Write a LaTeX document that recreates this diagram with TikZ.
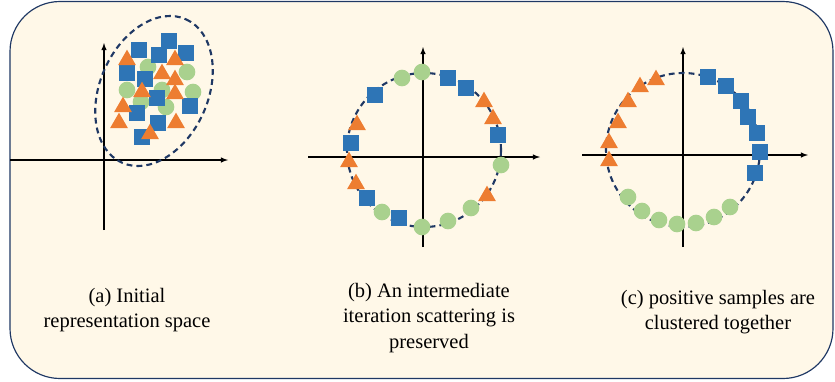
\documentclass[tikz,border=0pt]{standalone}
\usepackage{fontspec}
\setmainfont{Liberation Serif}
\usetikzlibrary{shapes.geometric}

\definecolor{sqblue}{HTML}{2E75B6}
\definecolor{triorange}{HTML}{ED7D31}
\definecolor{dotgreen}{HTML}{A9D18E}
\definecolor{ringnavy}{HTML}{1F3864}
\definecolor{panelcream}{HTML}{FFF8E8}

\begin{document}
\begin{tikzpicture}[
            x = 0.03cm, y = -0.03cm, % one unit = one pixel of the figure
            > = latex, % arrow head style
            axisline/.style = {->, line width=1.1pt, black},
            ring/.style = {draw=ringnavy, line width=1.8pt, dash pattern=on 5pt off 3.5pt},
            sq/.style = {shape=rectangle, fill=sqblue, minimum size=0.5cm, inner sep=0pt},
            gdot/.style = {shape=circle, fill=dotgreen, minimum size=0.5cm, inner sep=0pt},
            tri/.style = {shape=regular polygon, regular polygon sides=3, fill=triorange, minimum size=0.62cm, inner sep=0pt},
            captext/.style = {align=center, font=\fontsize{17.5}{22}\selectfont}
        ]

\useasboundingbox (0,0) rectangle (835,381);
\draw[draw=ringnavy, line width=1pt, fill=panelcream, rounded corners=1.5cm] (10,1.5) rectangle (833,378.5);

% (a) initial space
\coordinate (aW) at (10,160);
\coordinate (aE) at (228,160);
\coordinate (aS) at (104,230);
\coordinate (aN) at (104,43);
\draw[axisline] (aW) -- (aE);
\draw[axisline] (aS) -- (aN);
\draw[ring] (154,91) ellipse [x radius=78.5, y radius=54, rotate=66];

\foreach \x/\y [count=\i] in {148/67, 187/72, 127/90, 162/90, 193/92, 141/102, 166/107}
  \node[gdot] (aC\i) at (\x,\y) {};
\foreach \x/\y [count=\i] in {139/50, 169/41, 159/55, 186/53, 127/73, 145/79, 157/98, 137/113, 190/106, 158/123, 142/137}
  \node[sq] (aQ\i) at (\x,\y) {};
\foreach \x/\y [count=\i] in {127/60, 175/60, 162/74, 175/80, 142/92, 175/94, 123/107, 119/123, 176/123, 150/134}
  \node[tri] (aT\i) at (\x,\y) {};

% (b) intermediate iteration
\coordinate (bW) at (308,157);
\coordinate (bE) at (540,157);
\coordinate (bS) at (423,247);
\coordinate (bN) at (423,47);
\draw[axisline] (bW) -- (bE);
\draw[axisline] (bS) -- (bN);
\draw[ring] (424,150) circle [radius=77];

\foreach \x/\y [count=\i] in {422/72, 402/78, 501/165, 471/208, 448/221, 422/227, 382/212}
  \node[gdot] (bC\i) at (\x,\y) {};
\foreach \x/\y [count=\i] in {448/78, 466/88, 498/135, 399/218, 367/198, 351/143, 375/95}
  \node[sq] (bQ\i) at (\x,\y) {};
\foreach \x/\y [count=\i] in {484/102, 493/119, 487/196, 356/184, 349/162, 357/125}
  \node[tri] (bT\i) at (\x,\y) {};

% (c) clustered
\coordinate (cW) at (582,155);
\coordinate (cE) at (808,155);
\coordinate (cS) at (683,247);
\coordinate (cN) at (683,47);
\draw[axisline] (cW) -- (cE);
\draw[axisline] (cS) -- (cN);
\draw[ring] (683,150) circle [radius=77];

\foreach \x/\y [count=\i] in {628/197, 642/211, 659/220, 677/224, 696/223, 714/217, 730/207}
  \node[gdot] (cC\i) at (\x,\y) {};
\foreach \x/\y [count=\i] in {708/77, 726/86, 741/101, 748/117, 757/133, 760/152, 755/173}
  \node[sq] (cQ\i) at (\x,\y) {};
\foreach \x/\y [count=\i] in {656/80, 640/87, 628/102, 618/123, 609/143, 609/161}
  \node[tri] (cT\i) at (\x,\y) {};

% captions
\node[captext] (capA) at (127,310) {(a) Initial\\representation space};
\node[captext] (capB) at (429,318) {(b) An intermediate\\iteration scattering is\\preserved};
\node[captext] (capC) at (718,312) {(c) positive samples are\\clustered together};
\end{tikzpicture}
\end{document}
